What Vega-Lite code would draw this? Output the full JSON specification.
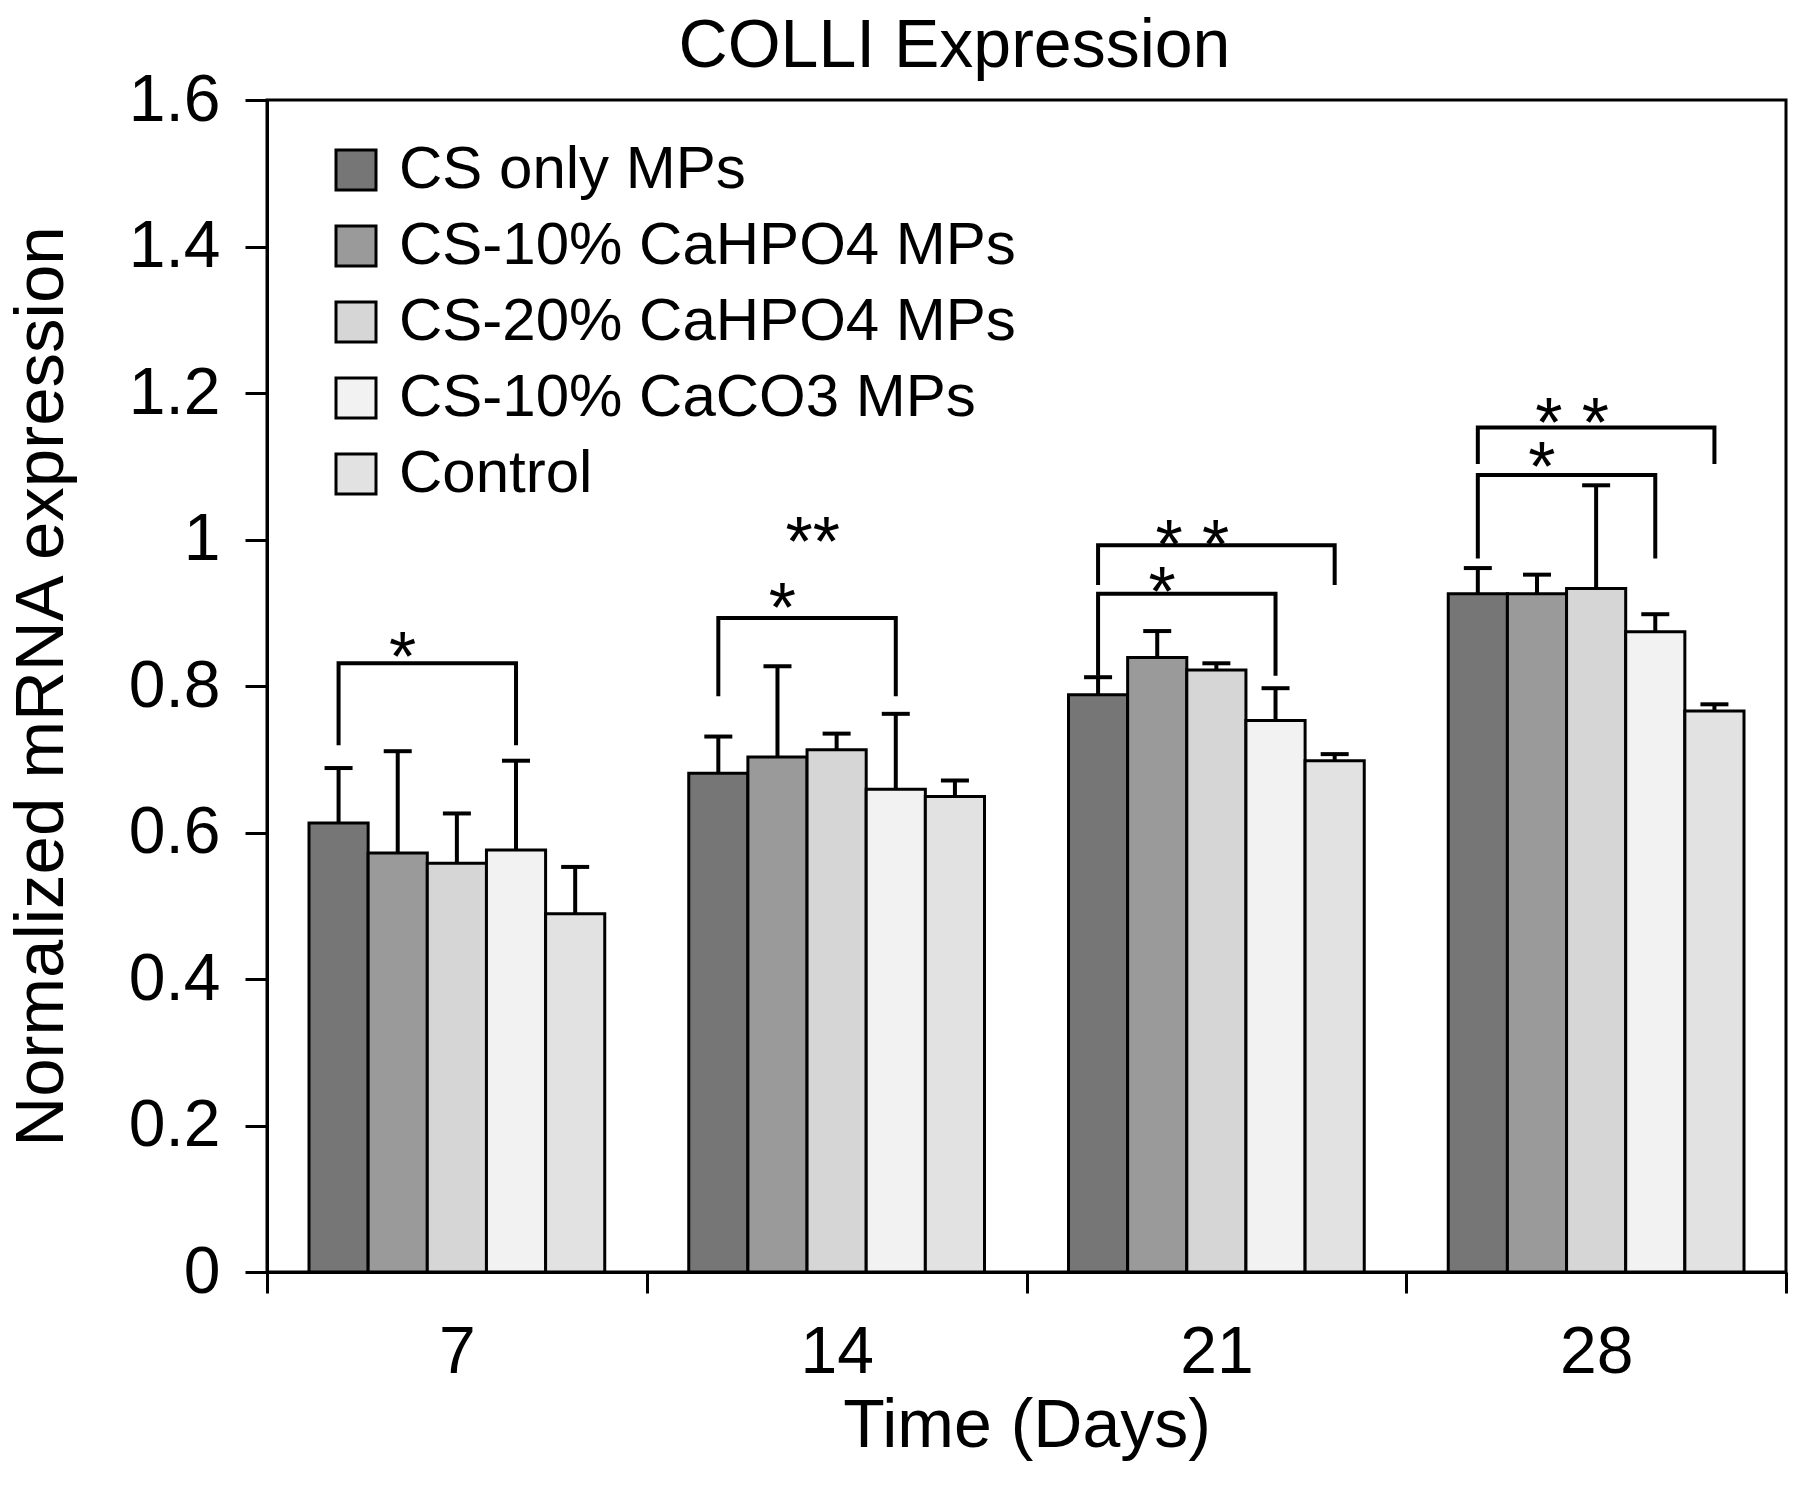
{
  "$schema": "https://vega.github.io/schema/vega-lite/v6.json",
  "width": 1519,
  "height": 1172,
  "autosize": {"type": "none"},
  "padding": {"left": 267, "top": 100, "right": 14, "bottom": 228},
  "background": "white",
  "title": {"text": "COLLI Expression", "fontSize": 68, "fontWeight": "normal", "anchor": "middle", "baseline": "alphabetic", "offset": 1, "frame": "group", "color": "black", "dx": -72, "dy": 69},
  "datasets": {
    "bars": [
      {"day": "7", "group": "CS only MPs", "value": 0.613, "hi": 0.688},
      {"day": "7", "group": "CS-10% CaHPO4 MPs", "value": 0.572, "hi": 0.711},
      {"day": "7", "group": "CS-20% CaHPO4 MPs", "value": 0.558, "hi": 0.626},
      {"day": "7", "group": "CS-10% CaCO3 MPs", "value": 0.576, "hi": 0.698},
      {"day": "7", "group": "Control", "value": 0.489, "hi": 0.553},
      {"day": "14", "group": "CS only MPs", "value": 0.681, "hi": 0.731},
      {"day": "14", "group": "CS-10% CaHPO4 MPs", "value": 0.703, "hi": 0.827},
      {"day": "14", "group": "CS-20% CaHPO4 MPs", "value": 0.713, "hi": 0.735},
      {"day": "14", "group": "CS-10% CaCO3 MPs", "value": 0.659, "hi": 0.762},
      {"day": "14", "group": "Control", "value": 0.649, "hi": 0.671},
      {"day": "21", "group": "CS only MPs", "value": 0.788, "hi": 0.812},
      {"day": "21", "group": "CS-10% CaHPO4 MPs", "value": 0.839, "hi": 0.875},
      {"day": "21", "group": "CS-20% CaHPO4 MPs", "value": 0.822, "hi": 0.831},
      {"day": "21", "group": "CS-10% CaCO3 MPs", "value": 0.753, "hi": 0.797},
      {"day": "21", "group": "Control", "value": 0.698, "hi": 0.707},
      {"day": "28", "group": "CS only MPs", "value": 0.926, "hi": 0.961},
      {"day": "28", "group": "CS-10% CaHPO4 MPs", "value": 0.926, "hi": 0.952},
      {"day": "28", "group": "CS-20% CaHPO4 MPs", "value": 0.933, "hi": 1.074},
      {"day": "28", "group": "CS-10% CaCO3 MPs", "value": 0.874, "hi": 0.898},
      {"day": "28", "group": "Control", "value": 0.766, "hi": 0.775}
    ],
    "brackets": [
      {"id": "a", "ord": 1, "day": "7", "group": "CS only MPs", "v": 0.719},
      {"id": "a", "ord": 2, "day": "7", "group": "CS only MPs", "v": 0.831},
      {"id": "a", "ord": 3, "day": "7", "group": "CS-10% CaCO3 MPs", "v": 0.831},
      {"id": "a", "ord": 4, "day": "7", "group": "CS-10% CaCO3 MPs", "v": 0.719},
      {"id": "b", "ord": 1, "day": "14", "group": "CS only MPs", "v": 0.786},
      {"id": "b", "ord": 2, "day": "14", "group": "CS only MPs", "v": 0.893},
      {"id": "b", "ord": 3, "day": "14", "group": "CS-10% CaCO3 MPs", "v": 0.893},
      {"id": "b", "ord": 4, "day": "14", "group": "CS-10% CaCO3 MPs", "v": 0.786},
      {"id": "c", "ord": 1, "day": "21", "group": "CS only MPs", "v": 0.814},
      {"id": "c", "ord": 2, "day": "21", "group": "CS only MPs", "v": 0.926},
      {"id": "c", "ord": 3, "day": "21", "group": "CS-10% CaCO3 MPs", "v": 0.926},
      {"id": "c", "ord": 4, "day": "21", "group": "CS-10% CaCO3 MPs", "v": 0.814},
      {"id": "d", "ord": 1, "day": "21", "group": "CS only MPs", "v": 0.938},
      {"id": "d", "ord": 2, "day": "21", "group": "CS only MPs", "v": 0.992},
      {"id": "d", "ord": 3, "day": "21", "group": "Control", "v": 0.992},
      {"id": "d", "ord": 4, "day": "21", "group": "Control", "v": 0.938},
      {"id": "e", "ord": 1, "day": "28", "group": "CS only MPs", "v": 0.974},
      {"id": "e", "ord": 2, "day": "28", "group": "CS only MPs", "v": 1.088},
      {"id": "e", "ord": 3, "day": "28", "group": "CS-10% CaCO3 MPs", "v": 1.088},
      {"id": "e", "ord": 4, "day": "28", "group": "CS-10% CaCO3 MPs", "v": 0.974},
      {"id": "f", "ord": 1, "day": "28", "group": "CS only MPs", "v": 1.103},
      {"id": "f", "ord": 2, "day": "28", "group": "CS only MPs", "v": 1.153},
      {"id": "f", "ord": 3, "day": "28", "group": "Control", "v": 1.153},
      {"id": "f", "ord": 4, "day": "28", "group": "Control", "v": 1.103}
    ],
    "stars1": [
      {"day": "7", "group": "CS-10% CaHPO4 MPs", "v": 0.859, "label": "*"},
      {"day": "14", "group": "CS-10% CaHPO4 MPs", "v": 0.926, "label": "*"},
      {"day": "21", "group": "CS-10% CaHPO4 MPs", "v": 0.948, "label": "*"},
      {"day": "28", "group": "CS-10% CaHPO4 MPs", "v": 1.118, "label": "*"}
    ],
    "stars2": [
      {"day": "14", "group": "CS-20% CaHPO4 MPs", "v": 1.016, "label": "**"},
      {"day": "21", "group": "CS-20% CaHPO4 MPs", "v": 1.011, "label": "* *"},
      {"day": "28", "group": "CS-20% CaHPO4 MPs", "v": 1.178, "label": "* *"}
    ]
  },
  "encoding": {
    "x": {
      "field": "day", "type": "nominal", "sort": ["7", "14", "21", "28"],
      "scale": {"domain": ["7", "14", "21", "28"], "paddingInner": 0, "paddingOuter": 0},
      "axis": {"title": "Time (Days)", "labelAngle": 0, "tickBand": "extent", "tickSize": 21, "labelBaseline": "alphabetic", "labelPadding": 79, "titleBaseline": "alphabetic", "titleY": 174}
    },
    "xOffset": {
      "field": "group", "type": "nominal",
      "scale": {"domain": ["CS only MPs", "CS-10% CaHPO4 MPs", "CS-20% CaHPO4 MPs", "CS-10% CaCO3 MPs", "Control"], "paddingInner": 0, "paddingOuter": 0.71}
    }
  },
  "layer": [
    {
      "data": {"name": "bars"},
      "mark": {"type": "bar", "stroke": "black", "strokeWidth": 3},
      "encoding": {
        "y": {
          "field": "value", "type": "quantitative",
          "scale": {"domain": [0, 1.6], "nice": false},
          "axis": {"title": "Normalized mRNA expression", "values": [0, 0.2, 0.4, 0.6, 0.8, 1, 1.2, 1.4, 1.6], "format": ".1~f", "tickSize": 22, "labelPadding": 25, "titleAngle": 270, "titleX": -205, "titleY": 586, "titleAlign": "center", "titleBaseline": "alphabetic", "titleFontSize": 69}
        },
        "color": {
          "field": "group", "type": "nominal",
          "scale": {"domain": ["CS only MPs", "CS-10% CaHPO4 MPs", "CS-20% CaHPO4 MPs", "CS-10% CaCO3 MPs", "Control"], "range": ["#767676", "#9a9a9a", "#d6d6d6", "#f2f2f2", "#e2e2e2"]},
          "legend": {"orient": "none", "legendX": 59, "legendY": 40, "title": null, "symbolType": "square", "symbolSize": 1600, "symbolStrokeColor": "black", "symbolStrokeWidth": 3, "symbolOpacity": 1, "labelFontSize": 60, "labelOffset": 13, "rowPadding": 16, "labelColor": "black", "labelLimit": 900, "padding": 0}
        }
      }
    },
    {
      "data": {"name": "bars"},
      "mark": {"type": "rule", "color": "black", "strokeWidth": 4},
      "encoding": {
        "y": {"field": "value", "type": "quantitative"},
        "y2": {"field": "hi"}
      }
    },
    {
      "data": {"name": "bars"},
      "mark": {"type": "tick", "color": "black", "size": 28, "thickness": 4, "opacity": 1},
      "encoding": {
        "y": {"field": "hi", "type": "quantitative"}
      }
    },
    {
      "data": {"name": "brackets"},
      "mark": {"type": "line", "color": "black", "strokeWidth": 4, "strokeJoin": "miter"},
      "encoding": {
        "y": {"field": "v", "type": "quantitative"},
        "detail": {"field": "id", "type": "nominal"},
        "order": {"field": "ord", "type": "quantitative"}
      }
    },
    {
      "data": {"name": "stars1"},
      "mark": {"type": "text", "fontSize": 70, "baseline": "alphabetic", "align": "center", "dy": 38, "dx": 5, "color": "black"},
      "encoding": {
        "y": {"field": "v", "type": "quantitative"},
        "text": {"field": "label"}
      }
    },
    {
      "data": {"name": "stars2"},
      "mark": {"type": "text", "fontSize": 70, "baseline": "alphabetic", "align": "center", "dy": 38, "dx": -24, "color": "black"},
      "encoding": {
        "y": {"field": "v", "type": "quantitative"},
        "text": {"field": "label"}
      }
    }
  ],
  "config": {
    "font": "Liberation Sans",
    "view": {"stroke": "black", "strokeWidth": 3},
    "axis": {"grid": false, "domainColor": "black", "domainWidth": 3, "tickColor": "black", "tickWidth": 3, "labelColor": "black", "titleColor": "black", "labelFontSize": 66, "titleFontSize": 68, "titleFontWeight": "normal", "labelFont": "Liberation Sans", "titleFont": "Liberation Sans"},
    "legend": {"labelFont": "Liberation Sans"}
  }
}
